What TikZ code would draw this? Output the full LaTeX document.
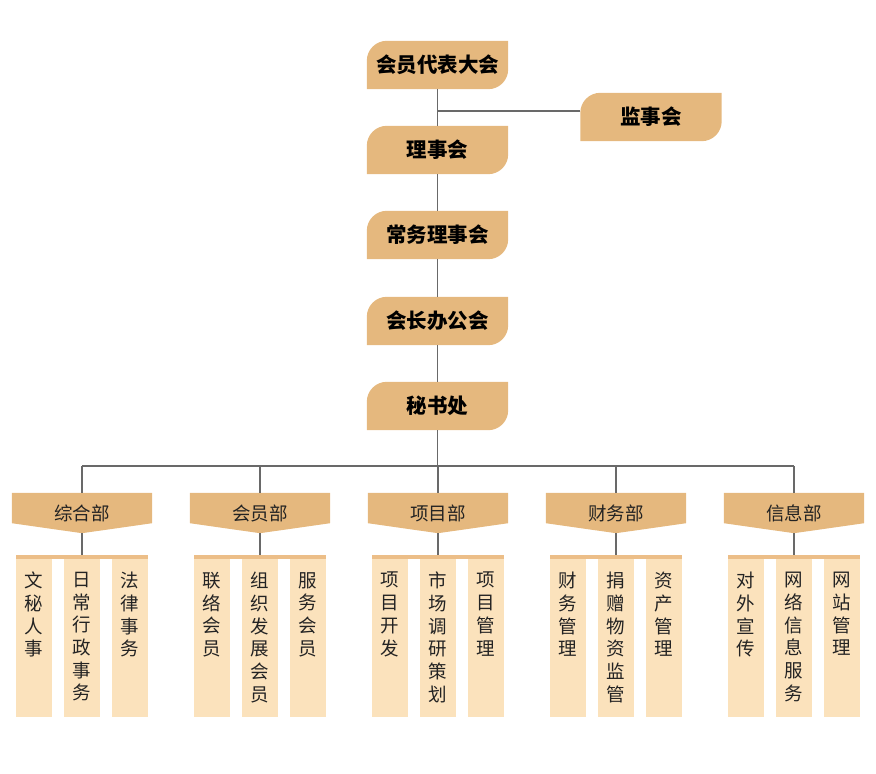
\documentclass[tikz,border=0pt]{standalone}
\usepackage{fontspec}
\newfontfamily\cjk{Noto Sans CJK SC}
\XeTeXlinebreaklocale "zh"
\XeTeXlinebreakskip=0pt plus 1pt
\usetikzlibrary{positioning,calc,backgrounds}
\definecolor{boxtan}{RGB}{229,184,126}
\definecolor{colpale}{RGB}{251,226,188}
\definecolor{striptan}{RGB}{236,190,136}
\definecolor{linegray}{RGB}{105,105,105}
\definecolor{inkdark}{RGB}{35,35,35}

\tikzset{
  mainbox/.style={minimum width=141pt,minimum height=48pt,inner sep=0pt,
    font=\cjk\bfseries\fontsize{20.5}{21}\selectfont,text=black},
  deptbox/.style={minimum width=140pt,minimum height=40pt,inner sep=0pt,
    font=\cjk\fontsize{18.5}{19}\selectfont,text=inkdark},
  stripbar/.style={minimum width=132pt,minimum height=4pt,inner sep=0pt,fill=striptan},
  colbody/.style={minimum width=36pt,minimum height=158pt,inner sep=0pt,anchor=north,fill=colpale},
  coltext/.style={text width=20pt,inner sep=0pt,align=center,anchor=north,
    font=\cjk\fontsize{18.5}{22.7}\selectfont,text=inkdark},
  link/.style={draw=linegray,line width=1.2pt}
}

% leaf shaped box: round top left and bottom right
\newcommand{\leafbox}[1]{%
  \fill[boxtan] (#1.south west) -- ($(#1.north west)+(0,-20pt)$)
    arc[start angle=180,end angle=90,radius=20pt] -- (#1.north east)
    -- ($(#1.south east)+(0,20pt)$)
    arc[start angle=0,end angle=-90,radius=20pt] -- cycle;}

\begin{document}
\begin{tikzpicture}[x=1pt,y=1pt]
  \useasboundingbox (0,0) rectangle (876,-774);

  % Top chain
  \node[mainbox] (dbdh) at (437.5,-65) {会员代表大会};
  \node[mainbox] (lsh) at (437.5,-150) {理事会};
  \node[mainbox] (cwlsh) at (437.5,-235) {常务理事会};
  \node[mainbox] (hzbgh) at (437.5,-321) {会长办公会};
  \node[mainbox] (msc) at (437.5,-406) {秘书处};
  \node[mainbox] (jsh) at (651,-117) {监事会};
  \begin{scope}[on background layer]
    \foreach \b in {dbdh,lsh,cwlsh,hzbgh,msc,jsh} {\leafbox{\b}}
  \end{scope}

  % Trunk
  \draw[link] (dbdh) -- (lsh);
  \draw[link] (lsh) -- (cwlsh);
  \draw[link] (cwlsh) -- (hzbgh);
  \draw[link] (hzbgh) -- (msc);
  \coordinate (jshjoin) at (437.5,-111);
  \draw[link] (jshjoin) -- (jshjoin -| jsh.west);

  % Bus line
  \coordinate (bus) at (437.5,-466);
  \draw[link] (msc) -- (bus);
  \coordinate (busl) at (82,-466);
  \coordinate (busr) at (794,-466);
  \draw[link] (busl) -- (busr);

  % Departments
  \foreach \n/\cx/\dname/\ca/\cb/\cc in {
    1/82/综合部/文秘人事/日常行政事务/法律事务,
    2/260/会员部/联络会员/组织发展会员/服务会员,
    3/438/项目部/项目开发/市场调研策划/项目管理,
    4/616/财务部/财务管理/捐赠物资监管/资产管理,
    5/794/信息部/对外宣传/网络信息服务/网站管理} {
    \node[deptbox] (d\n) at (\cx,-513) {\dname};
    \begin{scope}[on background layer]
      \fill[boxtan] (d\n.north west) -- (d\n.north east)
        -- ($(d\n.south east)+(0,10pt)$) -- (d\n.south)
        -- ($(d\n.south west)+(0,10pt)$) -- cycle;
    \end{scope}
    \draw[link] (d\n.north |- busl) -- (d\n.north);
    \node[colbody] (c\n a) at (\cx-48,-559) {};
    \node[colbody] (c\n b) at (\cx,-559) {};
    \node[colbody] (c\n c) at (\cx+48,-559) {};
    \node[stripbar] (s\n) at (\cx,-557) {};
    \draw[link] (d\n.south) -- (s\n.north);
    \node[coltext,below=13pt of c\n a.north] (t\n a) {\ca};
    \node[coltext,below=13pt of c\n b.north] (t\n b) {\cb};
    \node[coltext,below=13pt of c\n c.north] (t\n c) {\cc};
  }
\end{tikzpicture}
\end{document}
